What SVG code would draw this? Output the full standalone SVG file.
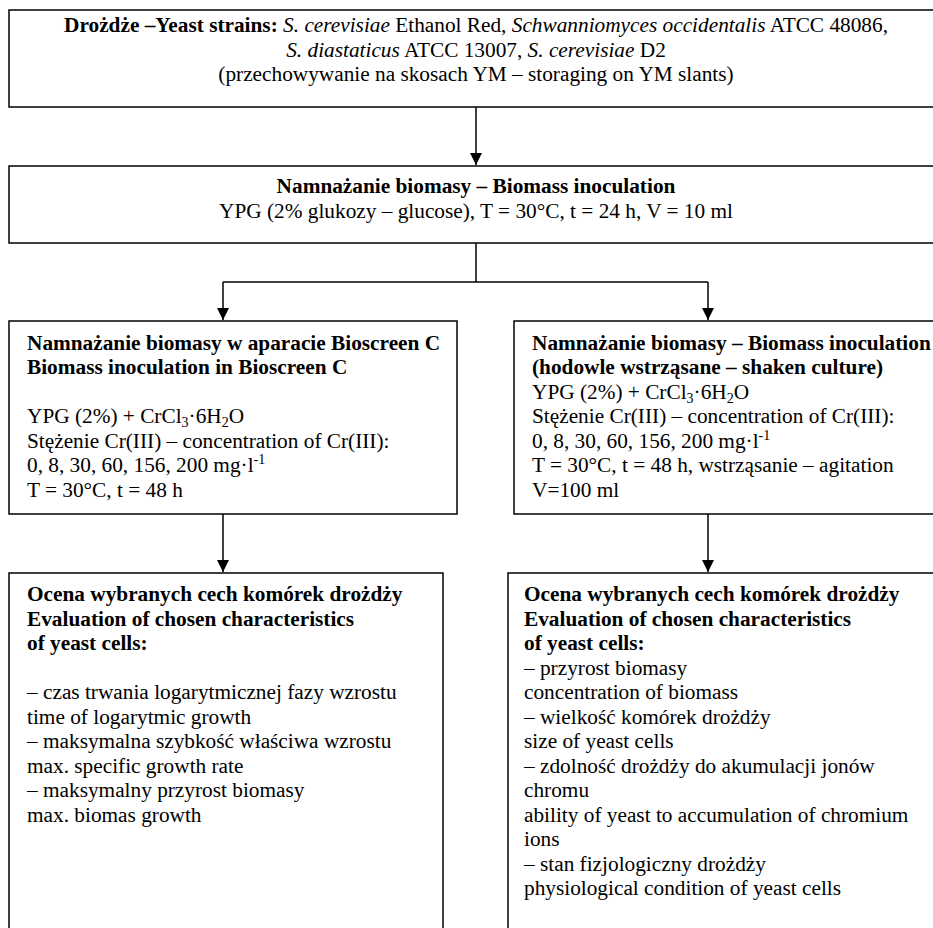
<svg xmlns="http://www.w3.org/2000/svg" width="933" height="928" viewBox="0 0 933 928">
<defs>
<style>
.box{fill:#fff;stroke:#000;stroke-width:1.5}
.t{font-family:"Liberation Serif","Times New Roman",serif;font-size:21.3px;fill:#000}
.c{text-anchor:middle}
.b{font-weight:bold}
.i{font-style:italic}
.conn{fill:none;stroke:#000;stroke-width:1.5}
</style>
<marker id="arr" markerUnits="userSpaceOnUse" markerWidth="12" markerHeight="12" refX="12" refY="6" orient="auto">
<path d="M0,0 L12,6 L0,12 z" fill="#000"/>
</marker>
</defs>
<rect width="933" height="928" fill="#fff"/>

<g id="connectors">
<line class="conn" x1="476" y1="107" x2="476" y2="165" marker-end="url(#arr)"/>
<polyline class="conn" points="476,243 476,282"/>
<polyline class="conn" points="223,282 708,282"/>
<line class="conn" x1="223" y1="282" x2="223" y2="320" marker-end="url(#arr)"/>
<line class="conn" x1="708" y1="282" x2="708" y2="320" marker-end="url(#arr)"/>
<line class="conn" x1="223" y1="514" x2="223" y2="572" marker-end="url(#arr)"/>
<line class="conn" x1="708" y1="514" x2="708" y2="572" marker-end="url(#arr)"/>
</g>

<g id="strains">
<rect class="box" x="9" y="10" width="940" height="97"/>
<text class="t c" x="476" y="32"><tspan class="b">Drożdże –Yeast strains:</tspan> <tspan class="i">S. cerevisiae</tspan> Ethanol Red, <tspan class="i">Schwanniomyces occidentalis</tspan> ATCC 48086,</text>
<text class="t c" x="476" y="56.5"><tspan class="i">S. diastaticus</tspan> ATCC 13007, <tspan class="i">S. cerevisiae</tspan> D2</text>
<text class="t c" x="476" y="81">(przechowywanie na skosach YM – storaging on YM slants)</text>
</g>

<g id="inoculation">
<rect class="box" x="9" y="166" width="940" height="77"/>
<text class="t c b" x="476" y="193">Namnażanie biomasy – Biomass inoculation</text>
<text class="t c" x="476" y="218">YPG (2% glukozy – glucose), T = 30°C, t = 24 h, V = 10 ml</text>
</g>

<g id="bioscreen">
<rect class="box" x="9" y="321" width="448" height="193"/>
<text class="t b" x="27" y="349.5">Namnażanie biomasy w aparacie Bioscreen C</text>
<text class="t b" x="27" y="374">Biomass inoculation in Bioscreen C</text>
<text class="t" x="27" y="423">YPG (2%) + CrCl<tspan dy="4" font-size="14">3</tspan><tspan dy="-4">·6H</tspan><tspan dy="4" font-size="14">2</tspan><tspan dy="-4">O</tspan></text>
<text class="t" x="27" y="447.5">Stężenie Cr(III) – concentration of Cr(III):</text>
<text class="t" x="27" y="472">0, 8, 30, 60, 156, 200 mg·l<tspan dy="-8" font-size="14">-1</tspan></text>
<text class="t" x="27" y="496.5">T = 30°C, t = 48 h</text>
</g>

<g id="shaken">
<rect class="box" x="514" y="321" width="440" height="193"/>
<text class="t b" x="532" y="349.5">Namnażanie biomasy – Biomass inoculation</text>
<text class="t b" x="532" y="374">(hodowle wstrząsane – shaken culture)</text>
<text class="t" x="532" y="398.5">YPG (2%) + CrCl<tspan dy="4" font-size="14">3</tspan><tspan dy="-4">·6H</tspan><tspan dy="4" font-size="14">2</tspan><tspan dy="-4">O</tspan></text>
<text class="t" x="532" y="423">Stężenie Cr(III) – concentration of Cr(III):</text>
<text class="t" x="532" y="447.5">0, 8, 30, 60, 156, 200 mg·l<tspan dy="-8" font-size="14">-1</tspan></text>
<text class="t" x="532" y="472">T = 30°C, t = 48 h, wstrząsanie – agitation</text>
<text class="t" x="532" y="496.5">V=100 ml</text>
</g>

<g id="eval-left">
<rect class="box" x="9" y="573" width="434" height="380"/>
<text class="t b" x="27" y="601">Ocena wybranych cech komórek drożdży</text>
<text class="t b" x="27" y="625.5">Evaluation of chosen characteristics</text>
<text class="t b" x="27" y="650">of yeast cells:</text>
<text class="t" x="27" y="699">– czas trwania logarytmicznej fazy wzrostu</text>
<text class="t" x="27" y="723.5">time of logarytmic growth</text>
<text class="t" x="27" y="748">– maksymalna szybkość właściwa wzrostu</text>
<text class="t" x="27" y="772.5">max. specific growth rate</text>
<text class="t" x="27" y="797">– maksymalny przyrost biomasy</text>
<text class="t" x="27" y="821.5">max. biomas growth</text>
</g>

<g id="eval-right">
<rect class="box" x="508" y="573" width="440" height="380"/>
<text class="t b" x="524" y="601">Ocena wybranych cech komórek drożdży</text>
<text class="t b" x="524" y="625.5">Evaluation of chosen characteristics</text>
<text class="t b" x="524" y="650">of yeast cells:</text>
<text class="t" x="524" y="674.5">– przyrost biomasy</text>
<text class="t" x="524" y="699">concentration of biomass</text>
<text class="t" x="524" y="723.5">– wielkość komórek drożdży</text>
<text class="t" x="524" y="748">size of yeast cells</text>
<text class="t" x="524" y="772.5">– zdolność drożdży do akumulacji jonów</text>
<text class="t" x="524" y="797">chromu</text>
<text class="t" x="524" y="821.5">ability of yeast to accumulation of chromium</text>
<text class="t" x="524" y="846">ions</text>
<text class="t" x="524" y="870.5">– stan fizjologiczny drożdży</text>
<text class="t" x="524" y="895">physiological condition of yeast cells</text>
</g>
</svg>
